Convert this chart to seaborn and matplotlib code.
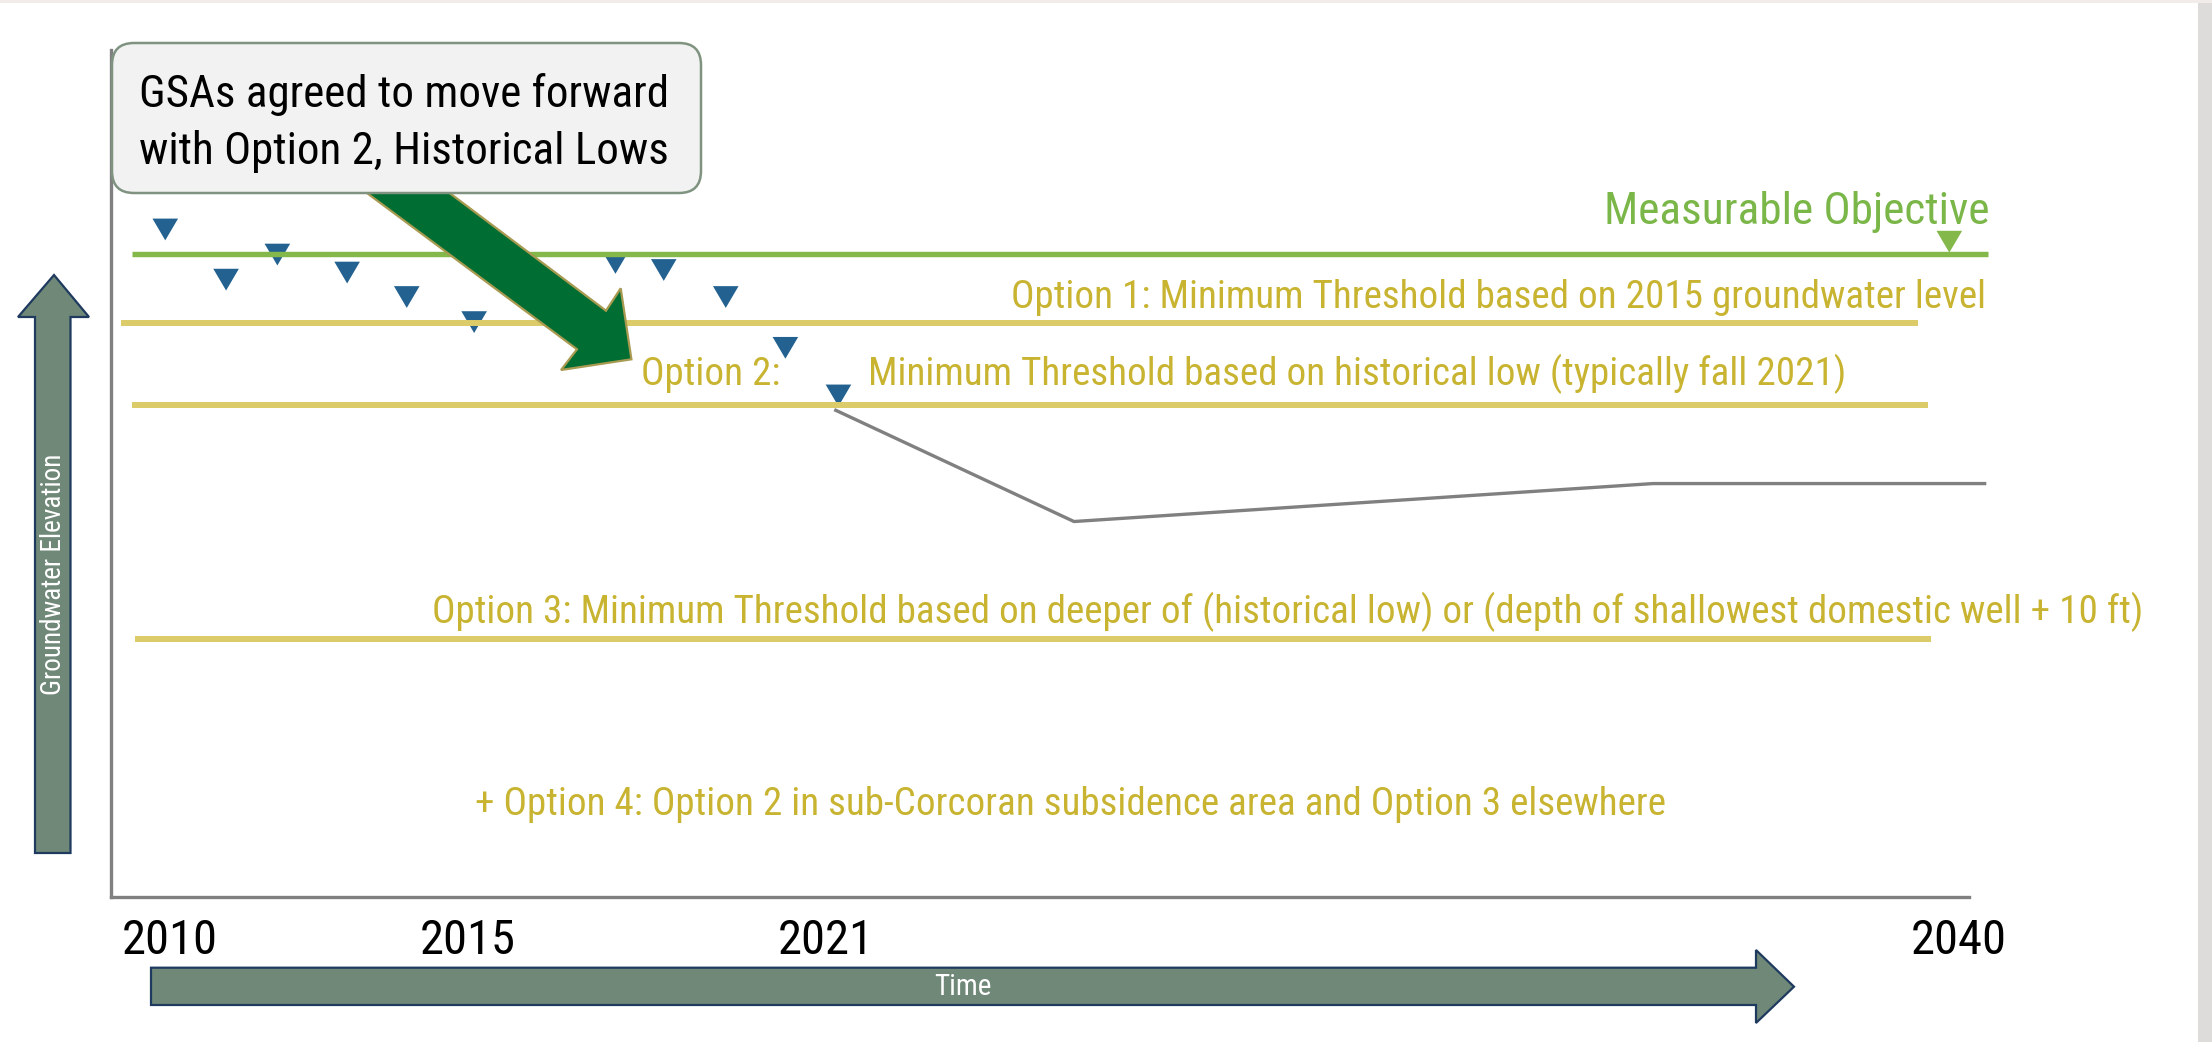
import numpy as np
import pandas as pd
import matplotlib
matplotlib.use("Agg")
import matplotlib.pyplot as plt
import matplotlib.patches as mpatches
import matplotlib.transforms as mtransforms
from matplotlib import font_manager as fm
import seaborn as sns

# ----- DATA (years on x, groundwater elevation in arbitrary units on y) -----
obs_years = [2009.93, 2010.95, 2011.81, 2012.98, 2013.98, 2015.11,
             2017.48, 2018.29, 2019.33, 2020.33, 2021.22]
obs_elev = [103.8, 96.0, 99.9, 97.1, 93.3, 89.4, 98.6, 97.5, 93.3, 85.4, 78.0]

mo_years = [2009.37, 2040.50]
mo_elev = [100.0, 100.0]
opt1_years = [2009.19, 2039.33]
opt1_elev = [89.3, 89.3]
opt2_years = [2009.37, 2039.49]
opt2_elev = [76.5, 76.5]
opt3_years = [2009.42, 2039.54]
opt3_elev = [40.1, 40.1]
proj_years = [2021.15, 2025.17, 2034.88, 2040.47]
proj_elev = [75.8, 58.4, 64.3, 64.3]
mo_marker_year = [2039.85]
mo_marker_elev = [101.9]

tick_years = [2010, 2015, 2021, 2040]
tick_labels = ["2010", "2015", "2021", "2040"]

GREEN = "#84B84A"
GOLD_LINE = "#DCCB69"
GOLD_TEXT = "#C8B431"
BLUE = "#236290"
GRAY = "#808080"

# the slide uses a narrow grotesque; take the closest installed one
available = {f.name for f in fm.fontManager.ttflist}
prefs = ["Liberation Sans Narrow", "Arial Narrow", "Roboto Condensed",
         "PT Sans Narrow", "Archivo Narrow"]
NARROW = next((p for p in prefs if p in available), "DejaVu Sans")

sns.set_style("white")
plt.rcParams["font.family"] = [NARROW, "DejaVu Sans"]

W, H = 2212, 1042
fig = plt.figure(figsize=(W / 100, H / 100), dpi=100)
ax = fig.add_axes([111 / W, 1 - 897.2 / H, (1969 - 111) / W, (897.2 - 50) / H])

# ----- threshold lines and the projected path -----
lines = [
    (mo_years, mo_elev, GREEN, 3.9),
    (opt1_years, opt1_elev, GOLD_LINE, 4.3),
    (opt2_years, opt2_elev, GOLD_LINE, 4.3),
    (opt3_years, opt3_elev, GOLD_LINE, 4.3),
    (proj_years, proj_elev, GRAY, 2.4),
]
for xs, ys, col, lw in lines:
    sns.lineplot(x=xs, y=ys, color=col, linewidth=lw, ax=ax,
                 estimator=None, sort=False, clip_on=False, zorder=3,
                 solid_capstyle="butt")

# measured water levels (downward triangles)
tri = [(-1, 0.85), (1, 0.85), (0, -0.85)]
sns.scatterplot(x=obs_years, y=obs_elev, marker=tri, s=340, color=BLUE,
                edgecolor="none", ax=ax, zorder=2, clip_on=False)
sns.scatterplot(x=mo_marker_year, y=mo_marker_elev, marker=tri, s=340,
                color=GREEN, edgecolor="none", ax=ax, zorder=4, clip_on=False)

ax.set_xlim(2009.02, 2040.18)
ax.set_ylim(0, 131.7)
ax.set_xticks(tick_years)
ax.set_xticklabels(tick_labels, fontsize=35, color="black")
ax.set_yticks([])
ax.tick_params(axis="x", length=0, pad=15)
sns.despine(ax=ax)
for side in ["left", "bottom"]:
    ax.spines[side].set_color(GRAY)
    ax.spines[side].set_linewidth(2.4)
ax.set_xlabel("")
ax.set_ylabel("")

OPT_FS = 28.2
ax.text(2040.52, 104.6, "Measurable Objective", color="#7AB648", fontsize=32.6,
        ha="right", va="baseline", zorder=5)
ax.text(2040.47, 91.6, "Option 1: Minimum Threshold based on 2015 groundwater level",
        color=GOLD_TEXT, fontsize=OPT_FS, ha="right", va="baseline")
ax.text(2017.91, 79.6, "Option 2:", color=GOLD_TEXT, fontsize=OPT_FS,
        ha="left", va="baseline")
ax.text(2021.72, 79.6, "Minimum Threshold based on historical low (typically fall 2021)",
        color=GOLD_TEXT, fontsize=OPT_FS, ha="left", va="baseline")
ax.text(2014.41, 42.6,
        "Option 3: Minimum Threshold based on deeper of (historical low) or "
        "(depth of shallowest domestic well + 10 ft)",
        color=GOLD_TEXT, fontsize=OPT_FS, ha="left", va="baseline", clip_on=False)
ax.text(2015.13, 12.8,
        "+ Option 4: Option 2 in sub-Corcoran subsidence area and Option 3 elsewhere",
        color=GOLD_TEXT, fontsize=OPT_FS, ha="left", va="baseline")

# ----- slide decorations in figure pixels (y measured from the top) -----
px = mtransforms.Affine2D().scale(1, -1).translate(0, H)

fig.patches.append(mpatches.Rectangle((2198, 0), 14, H, transform=px,
                                      facecolor="#dedbdb", edgecolor="none"))
fig.patches.append(mpatches.Rectangle((0, 0), W, 3, transform=px,
                                      facecolor="#f1ecea", edgecolor="none"))

up_arrow = [(54, 275), (89, 317), (70.5, 317), (70.5, 853),
            (35, 853), (35, 317), (18, 317)]
fig.patches.append(mpatches.Polygon(up_arrow, closed=True, transform=px,
                                    facecolor="#6F8878", edgecolor="#1F3A5F",
                                    linewidth=1.6))
fig.text(54, 574, "Groundwater Elevation", transform=px, rotation=90,
         color="white", fontsize=19.5, ha="center", va="center")

right_arrow = [(151, 967.7), (1756, 967.7), (1756, 950), (1794, 986.7),
               (1756, 1023), (1756, 1005), (151, 1005)]
fig.patches.append(mpatches.Polygon(right_arrow, closed=True, transform=px,
                                    facecolor="#6F8878", edgecolor="#1F3A5F",
                                    linewidth=1.6))
fig.text(963, 987, "Time", transform=px, color="white", fontsize=21,
         ha="center", va="center")

pointer = [(336, 170), (419, 170), (606, 310.7), (620.7, 288.3),
           (631.4, 359.3), (561, 370), (577, 349.3)]
fig.patches.append(mpatches.Polygon(pointer, closed=True, transform=px,
                                    facecolor="#006D32", edgecolor="#A89A50",
                                    linewidth=1.6, zorder=6))

box = mpatches.FancyBboxPatch((112, 43), 589, 150,
                              boxstyle="round,pad=0,rounding_size=22",
                              transform=px, facecolor="#F2F2F2",
                              edgecolor="#7F9380", linewidth=1.8, zorder=7)
fig.patches.append(box)
fig.text(139, 107, "GSAs agreed to move forward", transform=px, color="black",
         fontsize=32.4, ha="left", va="baseline", zorder=8)
fig.text(139, 164, "with Option 2, Historical Lows", transform=px, color="black",
         fontsize=32.4, ha="left", va="baseline", zorder=8)

fig.savefig("out.png", dpi=100)
